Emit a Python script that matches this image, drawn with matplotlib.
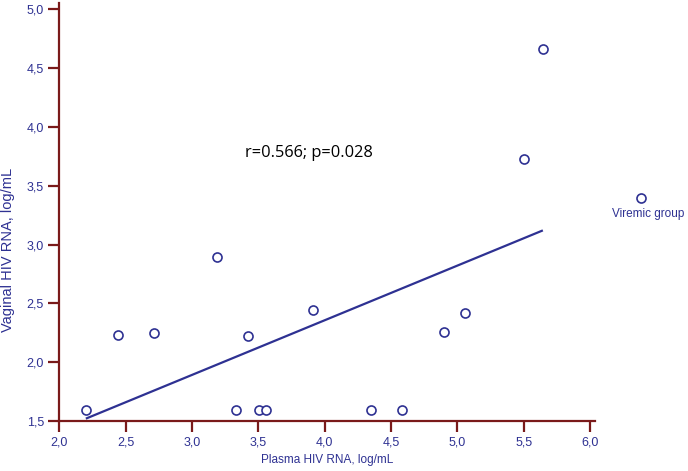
import matplotlib
matplotlib.use('Agg')
from matplotlib import pyplot as plt
from matplotlib.lines import Line2D

# plasma vs vaginal HIV RNA (log/mL), viremic group
plasma = [2.20, 2.44, 2.715, 3.19, 3.33, 3.42, 3.505, 3.555, 3.91, 4.35, 4.585, 4.90, 5.06, 5.50, 5.645]
vaginal = [1.59, 2.23, 2.245, 2.895, 1.59, 2.22, 1.59, 1.59, 2.44, 1.59, 1.59, 2.26, 2.42, 3.73, 4.66]

# regression line ends
fit_x = [2.20, 5.645]
fit_y = [1.52, 3.12]

x_ticks = [2.0, 2.5, 3.0, 3.5, 4.0, 4.5, 5.0, 5.5, 6.0]
y_ticks = [1.5, 2.0, 2.5, 3.0, 3.5, 4.0, 4.5, 5.0]

navy = '#2e3192'
axis_red = '#7a1a1a'

plt.rcParams['font.family'] = ['Liberation Sans', 'DejaVu Sans']

fig = plt.figure(figsize=(6.88, 4.71), dpi=100)
ax = fig.add_axes([59.3 / 688, 50 / 471, (595 - 59.3) / 688, (421 - 3.3) / 471])

ax.plot(fit_x, fit_y, color=navy, linewidth=1.6, solid_capstyle='butt')
ax.plot(plasma, vaginal, linestyle='none', marker='o', markersize=6.5,
        markerfacecolor='white', markeredgecolor=navy, markeredgewidth=1.2, clip_on=False)

ax.set_xlim(2.0, 6.038)
ax.set_ylim(1.5, 5.05)
ax.set_xticks(x_ticks)
ax.set_yticks(y_ticks)
ax.set_xticklabels([('%.1f' % v).replace('.', ',') for v in x_ticks])
ax.set_yticklabels([('%.1f' % v).replace('.', ',') for v in y_ticks])

for s in ['top', 'right']:
    ax.spines[s].set_visible(False)
for s in ['left', 'bottom']:
    ax.spines[s].set_color(axis_red)
    ax.spines[s].set_linewidth(1.6)
ax.tick_params(direction='out', length=8, width=1.6, color=axis_red,
               labelcolor=navy, labelsize=9, pad=3)

ax.set_xlabel('Plasma HIV RNA, log/mL', color=navy, fontsize=8.5, labelpad=4)
# y label placed by hand, it sits lower than the axis middle in the original
fig.text(8 / 688, 1 - 250 / 471, 'Vaginal HIV RNA, log/mL', rotation=90,
         ha='center', va='center', color=navy, fontsize=10.5)

ax.text(3.88, 3.78, 'r=0.566; p=0.028', ha='center', va='center',
        fontsize=11.8, color='black', family=['Open Sans', 'DejaVu Sans'])

# legend entry on the right
fig.add_artist(Line2D([641 / 688], [1 - 198 / 471], transform=fig.transFigure,
                      linestyle='none', marker='o', markersize=6.5,
                      markerfacecolor='white', markeredgecolor=navy, markeredgewidth=1.2))
fig.text(648 / 688, 1 - 214 / 471, 'Viremic group', ha='center', va='center',
         fontsize=8.5, color=navy)

fig.savefig('out.png', dpi=100)
